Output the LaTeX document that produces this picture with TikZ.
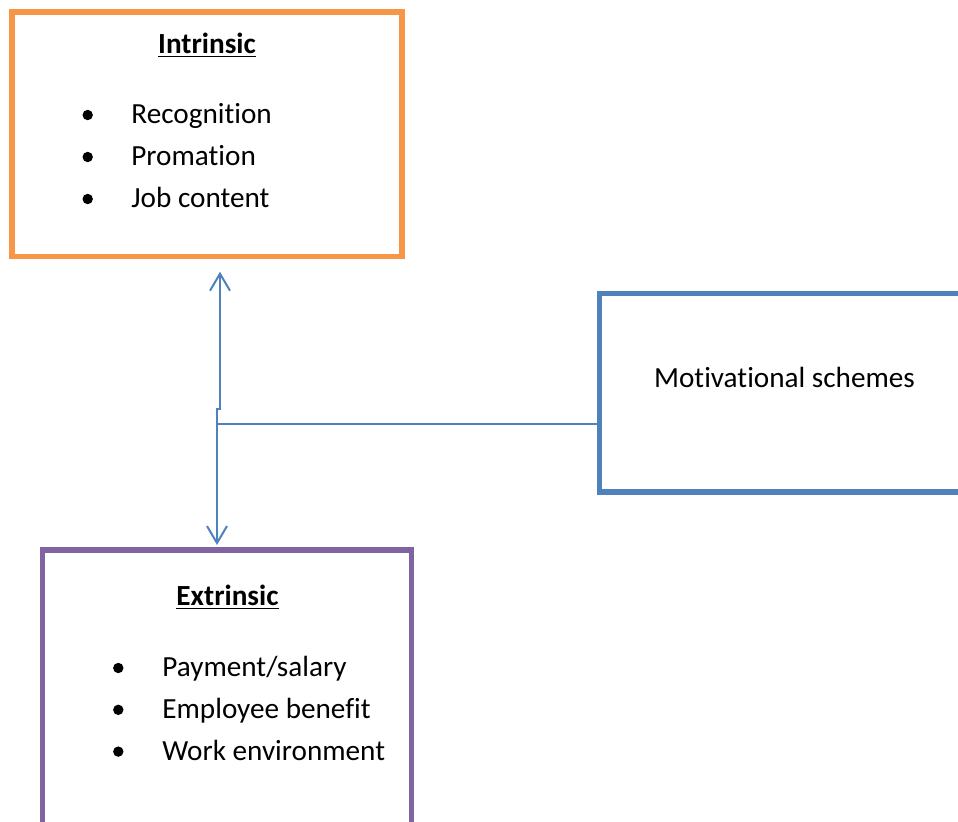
\documentclass[tikz,border=0pt]{standalone}
\usepackage{fontspec}
\setmainfont[RawFeature=-liga,RawFeature=-clig,RawFeature=-calt,RawFeature=-dlig]{Carlito}
\usetikzlibrary{arrows.meta,fit}
\definecolor{orangeline}{RGB}{247,150,70}
\definecolor{blueline}{RGB}{79,129,189}
\definecolor{purpleline}{RGB}{128,100,162}
\tikzset{
  box/.style={draw, line width=2.7pt, inner sep=0pt},
  link/.style={draw=blueline, line width=1pt},
  barb/.tip={Straight Barb[length=8.5pt,width=10pt]},
  bul/.style={circle, fill=black, inner sep=0pt, minimum size=5.2pt},
  item/.style={anchor=base west, inner sep=0pt, font=\fontsize{14.6}{17}\selectfont},
  head/.style={anchor=base, inner sep=0pt, font=\fontsize{14.6}{17}\selectfont\bfseries},
}
\begin{document}
\begin{tikzpicture}[x=0.5pt, y=-0.5pt]
\useasboundingbox (0,0) rectangle (958,821);
\clip (0,0) rectangle (958,821);

% the three boxes
\node[box, draw=orangeline, fit={(12,12) (402,256.5)}] (intr) {};
\node[box, draw=blueline, fit={(599.5,293.5) (969.5,492)}] (motiv) {};
\node[box, draw=purpleline, fit={(42.5,550) (411.5,860)}] (extr) {};

\node[head] (intrTitle) at (207,53.2) {\underline{Intrinsic}};
\node[head] (extrTitle) at (227.5,605.5) {\underline{Extrinsic}};
\node[item, anchor=base] (motivText) at (784.5,387.8) {Motivational schemes};

% bullet lists
\foreach \txt [count=\i] in {Recognition, Promation, Job content}
  {\node[bul] (ib\i) at (87.7,{115+42*(\i-1)}) {};
   \node[item] (it\i) at (131,{123.2+42*(\i-1)}) {\txt};}
\foreach \txt [count=\i] in {Payment/salary, Employee benefit, Work environment}
  {\node[bul] (eb\i) at (118.3,{668+41.8*(\i-1)}) {};
   \node[item] (et\i) at (162,{676.5+42*(\i-1)}) {\txt};}

% connectors
\coordinate (upTip) at (220,271.7);
\coordinate (jogTop) at (220,409);
\coordinate (jogLow) at (217,409);
\coordinate (lowTip) at (217,545);
\coordinate (branch) at (217,424);
\draw[link, barb-barb] (upTip) -- (jogTop) -- (jogLow) -- (lowTip);
\draw[link] (branch) -- (branch -| motiv.west);
\end{tikzpicture}
\end{document}
